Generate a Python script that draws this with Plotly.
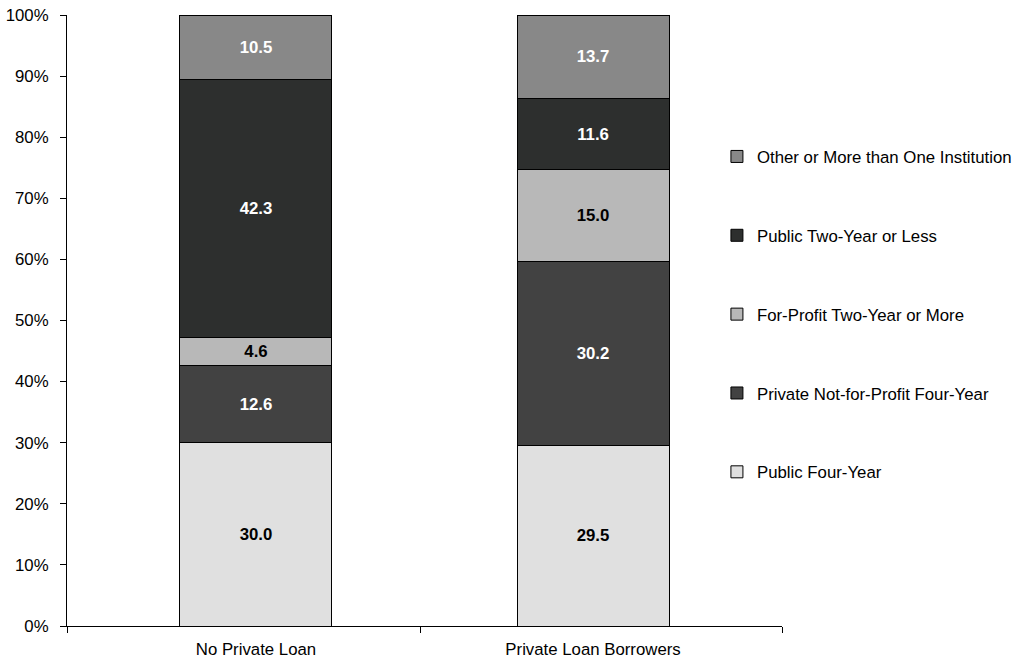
import plotly.graph_objects as go

categories = ["No Private Loan", "Private Loan Borrowers"]
series_names = [
    "Public Four-Year",
    "Private Not-for-Profit Four-Year",
    "For-Profit Two-Year or More",
    "Public Two-Year or Less",
    "Other or More than One Institution",
]
public_four = [30.0, 29.5]
private_nfp = [12.6, 30.2]
for_profit = [4.6, 15.0]
public_two = [42.3, 11.6]
other = [10.5, 13.7]
values = [public_four, private_nfp, for_profit, public_two, other]
colors = ["#e0e0e0", "#424242", "#b8b8b8", "#2d2f2e", "#888888"]
text_colors = ["black", "white", "black", "white", "white"]
tick_vals = list(range(0, 101, 10))
tick_text = [f"{v}%" for v in tick_vals]

FS = 16.8
fig = go.Figure()
n = len(series_names)
for i, (name, vals) in enumerate(zip(series_names, values)):
    fig.add_trace(go.Bar(
        x=categories, y=vals, name=name,
        marker=dict(color=colors[i], line=dict(color="black", width=1)),
        text=[f"{v:.1f}" for v in vals],
        textposition="inside", insidetextanchor="middle",
        textfont=dict(color=text_colors[i], size=FS, family="Liberation Sans", weight="bold"),
        legendgroup=name, legendrank=n - i,
        width=0.451,
    ))

# empty helper trace so the overlay axis carrying the boundary ticks is drawn
fig.add_trace(go.Scatter(x=[None], y=[None], xaxis="x2", yaxis="y",
                         showlegend=False, hoverinfo="skip", mode="markers"))

fig.update_layout(
    barmode="stack",
    width=1016, height=660,
    margin=dict(l=67, r=234, t=15, b=34, autoexpand=False),
    plot_bgcolor="white", paper_bgcolor="white",
    font=dict(family="Liberation Sans", size=FS, color="black"),
    showlegend=True,
    legend=dict(
        x=0.909, y=0.797, xanchor="left", yanchor="top",
        traceorder="grouped", tracegroupgap=54,
        font=dict(size=FS), itemwidth=30, bgcolor="rgba(0,0,0,0)",
    ),
    uniformtext=dict(mode=False),
    xaxis=dict(
        range=[-0.5607, 1.5607],
        showgrid=False, showline=True, linecolor="black", linewidth=1,
        ticks="", zeroline=False, ticklabelstandoff=8,
    ),
    xaxis2=dict(
        overlaying="x", anchor="y", side="bottom", range=[0, 1],
        tickvals=[0, 0.494, 1], showticklabels=False,
        ticks="outside", ticklen=6, tickcolor="black",
        showline=False, showgrid=False, zeroline=False,
    ),
    yaxis=dict(
        range=[0, 100], tickvals=tick_vals, ticktext=tick_text,
        showgrid=False, showline=True, linecolor="black", linewidth=1,
        ticks="outside", ticklen=6, tickcolor="black", zeroline=False,
        ticklabelstandoff=8,
    ),
)
fig.write_html("out.html")
